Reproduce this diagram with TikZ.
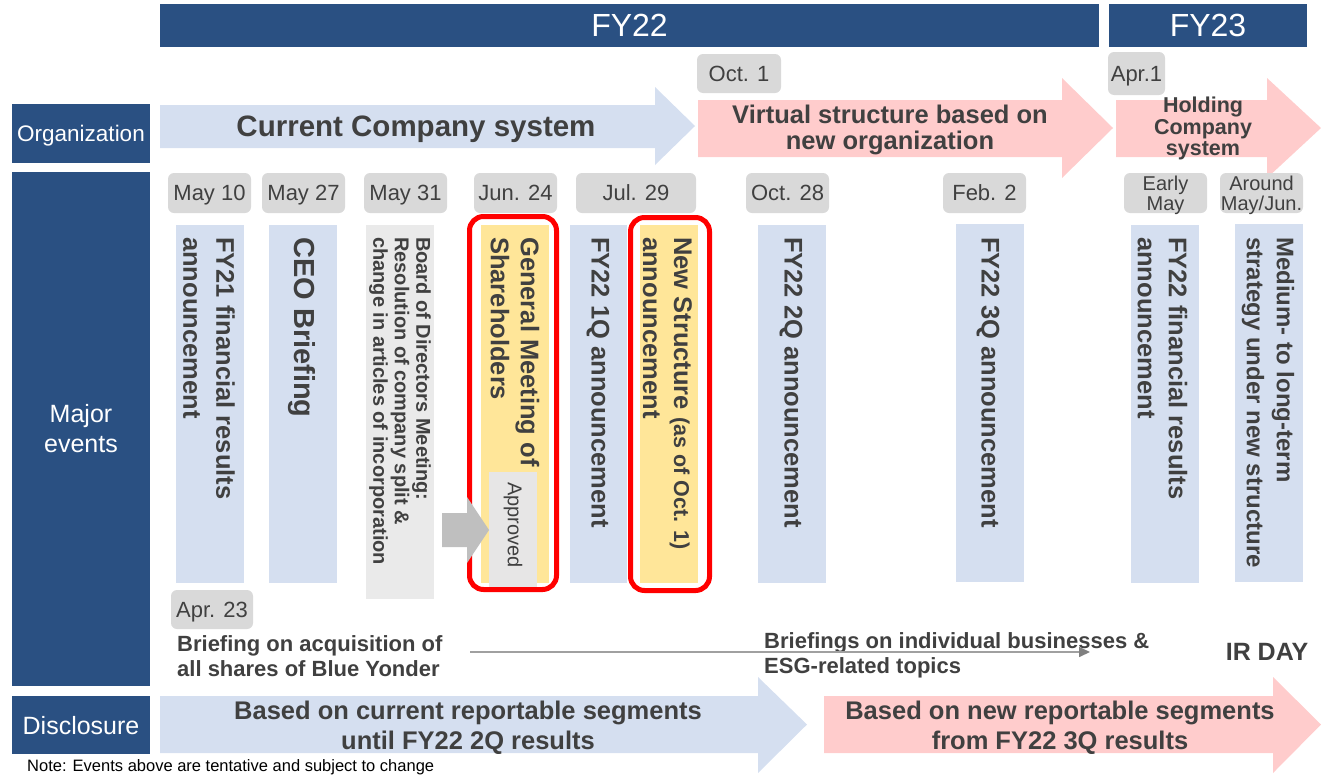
\documentclass[tikz,border=0pt]{standalone}
\usepackage{fontspec}
\setmainfont{Liberation Sans}
\usepackage{tikz}
\usetikzlibrary{arrows.meta}
\definecolor{hdrblue}{RGB}{42,80,130}
\definecolor{ltblue}{RGB}{213,223,240}
\definecolor{ltpink}{RGB}{255,204,204}
\definecolor{ltyellow}{RGB}{255,230,153}
\definecolor{boxgray}{RGB}{217,217,217}
\definecolor{colgray}{RGB}{234,234,234}
\definecolor{apprgray}{RGB}{231,230,230}
\definecolor{arrgray}{RGB}{191,191,191}
\definecolor{linkgray}{RGB}{160,160,160}
\definecolor{txtgray}{RGB}{64,64,64}
\newcommand{\fsz}[2]{\fontsize{#1}{#2}\selectfont}
\tikzset{
	hdrbar/.style={fill=hdrblue, text=white, inner sep=0, font=\fsz{32}{36}},
	rowlabel/.style={fill=hdrblue, text=white, inner sep=0, minimum width=138, align=center},
	datebox/.style={fill=boxgray, rounded corners=6, text=txtgray, inner sep=0, text depth=0, minimum height=40, font=\fsz{22}{24}, align=center},
	coltext/.style={rotate=-90, anchor=west, inner sep=0, align=left, text=txtgray, font=\bfseries\fsz{25.5}{31}},
	bigtext/.style={text=txtgray, font=\bfseries\fsz{25.5}{30}, align=center, inner sep=0},
	smalltext/.style={text=txtgray, font=\bfseries\fsz{22}{25}, align=left, inner sep=0, anchor=west},
	redframe/.style={draw=red, line width=5, rounded corners=14},
	graylink/.style={draw=linkgray, line width=1.5, -{Triangle[length=11,width=10,color=gray]}}
}

\begin{document}
\begin{tikzpicture}[x=1pt, y=-1pt]
			\useasboundingbox (0,0) rectangle (1321,774);
			
			% Header
			\node[hdrbar, minimum width=939, minimum height=43] (fy22) at (629.5,25.5) {FY22};
			\node[hdrbar, minimum width=198, minimum height=43] (fy23) at (1208,25.5) {FY23};
			
			% Row labels
			\node[rowlabel, minimum height=59, text depth=0, font=\fsz{22.5}{26}] (org) at (81,133.5) {Organization};
			\node[rowlabel, minimum height=514, font=\fsz{25}{30}] (major) at (81,429) {Major\\events};
			\node[rowlabel, minimum height=58, text depth=0, font=\fsz{25}{30}] (disc) at (81,725) {Disclosure};
			
			% Organization arrows
			\fill[ltblue] (160,105) -- (655,105) -- (655,87) -- (695,126) -- (655,165) -- (655,148) -- (160,148) -- cycle;
			\fill[ltpink] (698,100) -- (1062,100) -- (1062,78) -- (1113,128) -- (1062,178) -- (1062,157) -- (698,157) -- cycle;
			\fill[ltpink] (1116,100) -- (1267,100) -- (1267,78) -- (1321,128) -- (1267,178) -- (1267,157) -- (1116,157) -- cycle;
			
			% Disclosure arrows
			\fill[ltblue] (160,696) -- (758,696) -- (758,677) -- (807,724.5) -- (758,773) -- (758,753) -- (160,753) -- cycle;
			\fill[ltpink] (824,696) -- (1273,696) -- (1273,677) -- (1321,724.5) -- (1273,773) -- (1273,753) -- (824,753) -- cycle;
			
			% Columns
			\fill[ltblue] (176,225) rectangle (244,583);
			\fill[ltblue] (269,225) rectangle (337,583);
			\fill[colgray] (366,225) rectangle (434,599);
			\fill[ltyellow] (481,225) rectangle (549,583);
			\fill[ltblue] (570,225) rectangle (627,583);
			\fill[ltyellow] (640,225) rectangle (698,583);
			\fill[ltblue] (758,225) rectangle (826,583);
			\fill[ltblue] (956,224) rectangle (1024,582);
			\fill[ltblue] (1131,225) rectangle (1199,583);
			\fill[ltblue] (1235,224) rectangle (1303,582);
			\fill[apprgray] (489,472) rectangle (537,587);
			
			% Highlight frames
			\draw[redframe] (469.5,216.5) rectangle (556.5,589.5);
			\draw[redframe] (630.5,217.5) rectangle (709.5,590.5);
			
			% Approval arrow
			\fill[arrgray] (442,513) -- (467,513) -- (467,497) -- (489,530) -- (467,563) -- (467,547) -- (442,547) -- cycle;
			
			% Dates
			\node[datebox, minimum width=84, minimum height=39] (oct1) at (739,73.5) {Oct. 1};
			\node[datebox, minimum width=57, minimum height=43] (apr1) at (1136.5,73.5) {Apr.1};
			\node[datebox, minimum width=83] (may10) at (209.5,193) {May 10};
			\node[datebox, minimum width=83] (may27) at (303.5,193) {May 27};
			\node[datebox, minimum width=83] (may31) at (405.5,193) {May 31};
			\node[datebox, minimum width=83] (jun24) at (515.5,193) {Jun. 24};
			\node[datebox, minimum width=120] (jul29) at (636,193) {Jul. 29};
			\node[datebox, minimum width=83] (oct28) at (787.5,193) {Oct. 28};
			\node[datebox, minimum width=83] (feb2) at (984.5,193) {Feb. 2};
			\node[datebox, minimum width=83, font=\fsz{20}{20}] (earlymay) at (1165.5,193) {Early\\May};
			\node[datebox, minimum width=83, font=\fsz{20}{20}] (aroundmay) at (1261.5,193) {Around\\May/Jun.};
			\node[datebox, minimum width=82, minimum height=39] (apr23) at (212,609.5) {Apr. 23};
			
			% Arrow texts
			\node[bigtext, font=\bfseries\fsz{29.5}{30}] (cursys) at (416,129.5) {Current Company system};
			\node[bigtext, font=\bfseries\fsz{25.5}{26}] (virtual) at (890,129.5) {Virtual structure based on\\new organization};
			\node[bigtext, font=\bfseries\fsz{21.5}{21.5}] (holding) at (1203,128.5) {Holding\\Company\\system};
			\node[bigtext] (curseg) at (468,728) {Based on current reportable segments\\until FY22 2Q results};
			\node[bigtext] (newseg) at (1060,728) {Based on new reportable segments\\from FY22 3Q results};
			
			% Event texts
			\node[coltext, font=\bfseries\fsz{25.5}{33}] (fy21res) at (209,237) {FY21 financial results\\announcement};
			\node[coltext, font=\bfseries\fsz{29}{31}] (ceo) at (302,237) {CEO Briefing};
			\node[coltext, font=\bfseries\fsz{20}{21.5}] (board) at (400,237) {Board of Directors Meeting:\\Resolution of company split \&\\change in articles of incorporation};
			\node[coltext, font=\bfseries\fsz{25.5}{30}] (gms) at (515,237) {General Meeting of\\Shareholders};
			\node[coltext] (q1) at (598,237) {FY22 1Q announcement};
			\node[coltext] (newstr) at (667.5,237) {New Structure {\fsz{21.5}{31}(as of Oct. 1)}\\announcement};
			\node[coltext] (q2) at (791,237) {FY22 2Q announcement};
			\node[coltext] (q3) at (988,237) {FY22 3Q announcement};
			\node[coltext] (fy22res) at (1162.5,237) {FY22 financial results\\announcement};
			\node[coltext, font=\bfseries\fsz{24}{30}] (midterm) at (1268,237) {Medium- to long-term\\strategy under new structure};
			\node[coltext, font=\fsz{20}{22}] (approved) at (513,482) {Approved};
			
			% Briefings
			\node[smalltext] (bybrief) at (177,656) {Briefing on acquisition of\\all shares of Blue Yonder};
			\node[smalltext] (esgbrief) at (764,655) {Briefings on individual businesses \&\\ESG-related topics};
			\node[bigtext, font=\bfseries\fsz{25}{27}] (irday) at (1267,652) {IR DAY};
			\coordinate (lnstart) at (470,652);
			\coordinate (lnend) at (1090,652);
			\draw[graylink] (lnstart) -- (lnend);
			
			% Note
			\node[anchor=west, inner sep=0, font=\fsz{16.5}{18}] (note) at (27,767) {Note: Events above are tentative and subject to change};
		\end{tikzpicture}
\end{document}
